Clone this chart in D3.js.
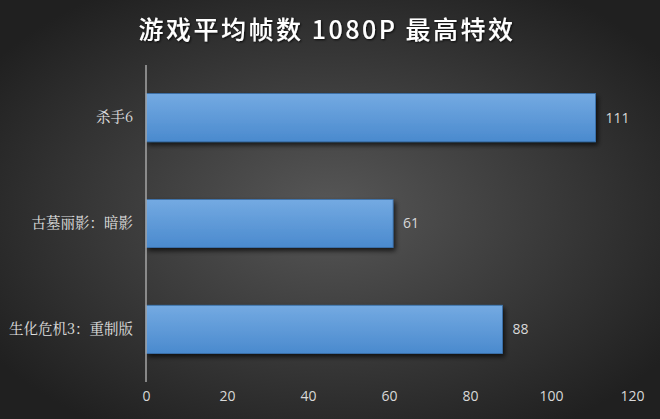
<!DOCTYPE html>
<html><head><meta charset="utf-8">
<script src="https://cdn.jsdelivr.net/npm/d3@7"></script>
<style>
html,body{margin:0;padding:0;background:#2a2a2a;}
svg{display:block;}
</style></head>
<body>
<script>
const categories = ["杀手6", "古墓丽影：暗影", "生化危机3：重制版"];
const values = [111, 61, 88];
const tickValues = [0, 20, 40, 60, 80, 100, 120];
const title = "游戏平均帧数 1080P 最高特效";

const W = 660, H = 419;
const svg = d3.select("body").append("svg").attr("width", W).attr("height", H);
const defs = svg.append("defs");

const bg = defs.append("radialGradient").attr("id", "bg")
  .attr("cx", "50%").attr("cy", "50%").attr("r", "62%");
bg.append("stop").attr("offset", "0%").attr("stop-color", "#575757");
bg.append("stop").attr("offset", "100%").attr("stop-color", "#202020");

const bar = defs.append("linearGradient").attr("id", "bar")
  .attr("x1", 0).attr("y1", 0).attr("x2", 0).attr("y2", 1);
bar.append("stop").attr("offset", "0%").attr("stop-color", "#74aae2");
bar.append("stop").attr("offset", "100%").attr("stop-color", "#4a8ace");

const sh = defs.append("filter").attr("id", "shadow").attr("x", "-10%").attr("y", "-20%").attr("width", "130%").attr("height", "160%");
sh.append("feDropShadow").attr("dx", 2).attr("dy", 3).attr("stdDeviation", 2.5)
  .attr("flood-color", "#000").attr("flood-opacity", 0.7);

const tsh = defs.append("filter").attr("id", "tshadow");
tsh.append("feDropShadow").attr("dx", 1).attr("dy", 1).attr("stdDeviation", 1)
  .attr("flood-color", "#000").attr("flood-opacity", 0.8);

svg.append("rect").attr("width", W).attr("height", H).attr("fill", "url(#bg)");

const m = {left: 146, right: 28, top: 65, bottom: 37};
const x = d3.scaleLinear().domain([0, 120]).range([m.left, W - m.right]);
const y = d3.scaleBand().domain(categories).range([m.top, H - m.bottom]).paddingInner(0.545).paddingOuter(0.27);

svg.append("text").attr("x", W / 2 - 3).attr("y", 39)
  .attr("text-anchor", "middle")
  .attr("font-family", "'Noto Sans CJK SC', sans-serif")
  .attr("font-weight", 500).attr("font-size", 25)
  .attr("letter-spacing", 2.5)
  .attr("fill", "#ffffff").attr("filter", "url(#tshadow)")
  .text(title);

const data = categories.map((c, i) => ({c, v: values[i]}));

svg.append("g").selectAll("rect").data(data).join("rect")
  .attr("x", x(0)).attr("y", d => y(d.c))
  .attr("width", d => x(d.v) - x(0)).attr("height", y.bandwidth())
  .attr("fill", "url(#bar)")
  .attr("stroke", "#3a72ad").attr("stroke-width", 0.8)
  .attr("filter", "url(#shadow)");

// vertical axis line
svg.append("line").attr("x1", x(0)).attr("x2", x(0))
  .attr("y1", m.top).attr("y2", H - m.bottom)
  .attr("stroke", "#a6a6a6").attr("stroke-width", 1.5);

// category labels
const yAxis = d3.axisLeft(y).tickSize(0).tickPadding(13);
const ya = svg.append("g").attr("transform", `translate(${x(0)},0)`).call(yAxis);
ya.select(".domain").remove();
ya.selectAll("text").attr("fill", "#e0e0e0").attr("font-size", 14.5)
  .attr("font-family", "'Noto Serif CJK SC','Noto Sans CJK SC', sans-serif");

// x tick labels
const xAxis = d3.axisBottom(x).tickValues(tickValues).tickSize(0).tickPadding(0);
const xa = svg.append("g").attr("transform", `translate(0,${H - m.bottom + 9})`).call(xAxis);
xa.select(".domain").remove();
xa.selectAll("text").attr("fill", "#d9d9d9").attr("font-size", 14)
  .attr("font-family", "'Open Sans', Calibri, sans-serif");

// value labels
svg.append("g").selectAll("text").data(data).join("text")
  .attr("x", d => x(d.v) + 10).attr("y", d => y(d.c) + y.bandwidth() / 2)
  .attr("dy", "0.35em")
  .attr("fill", "#d9d9d9").attr("font-size", 14)
  .attr("font-family", "'Open Sans', Calibri, sans-serif")
  .text(d => d.v);
</script>
</body></html>
